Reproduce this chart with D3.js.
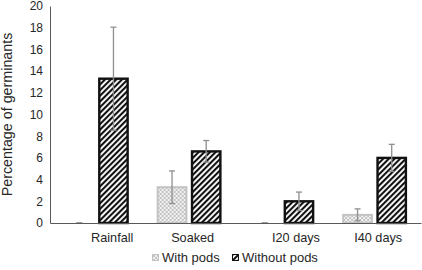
<!DOCTYPE html>
<html lang="en">
<head>
    <meta charset="UTF-8">
    <title>Percentage of germinants</title>
    <script src="https://cdnjs.cloudflare.com/ajax/libs/d3/7.8.5/d3.min.js"></script>
    <style>
        body {
            margin: 0;
            background: #fff;
            font-family: "Liberation Sans", Arial, sans-serif;
        }
        text {
            fill: #262626;
            white-space: pre;
        }
    </style>
</head>
<body>
    <div id="wrapper"></div>
    <script>
        // data
        const categories = ['Rainfall', 'Soaked', 'I20 days', 'I40 days']
        // leading spaces as in the original sheet labels
        const tickLabels = ['         Rainfall', '  Soaked', '        I20 days', '  I40 days']
        const seriesNames = ['With pods', 'Without pods']
        const withPods = [0, 3.3, 0, 0.75]
        const withPodsErr = [0, 1.5, 0, 0.55]
        const withoutPods = [13.3, 6.6, 2.0, 6.0]
        const withoutPodsErr = [4.75, 1.0, 0.85, 1.25]
        const yTicks = [0, 2, 4, 6, 8, 10, 12, 14, 16, 18, 20]

        const dimensions = {
            width: 422,
            height: 270,
            margin: { top: 6, right: 1, bottom: 47, left: 50 }
        }
        dimensions.boundedWidth = dimensions.width - dimensions.margin.left - dimensions.margin.right
        dimensions.boundedHeight = dimensions.height - dimensions.margin.top - dimensions.margin.bottom

        const svg = d3.select('#wrapper')
            .append('svg')
            .attr('width', dimensions.width)
            .attr('height', dimensions.height)

        // patterns
        const defs = svg.append('defs')
        const stripe = defs.append('pattern')
            .attr('id', 'stripe')
            .attr('patternUnits', 'userSpaceOnUse')
            .attr('width', 4)
            .attr('height', 4)
            .attr('patternTransform', 'rotate(45)')
        stripe.append('rect').attr('width', 4).attr('height', 4).attr('fill', '#fff')
        stripe.append('rect').attr('width', 2.1).attr('height', 4).attr('fill', '#111')

        const cross = defs.append('pattern')
            .attr('id', 'cross')
            .attr('patternUnits', 'userSpaceOnUse')
            .attr('width', 4)
            .attr('height', 4)
        cross.append('rect').attr('width', 4).attr('height', 4).attr('fill', '#f2f2f2')
        cross.append('path')
            .attr('d', 'M0,0L4,4M4,0L0,4')
            .attr('stroke', '#bdbdbd')
            .attr('stroke-width', 0.9)

        const bounds = svg.append('g')
            .attr('transform', `translate(${dimensions.margin.left},${dimensions.margin.top})`)

        // scales
        const x0 = d3.scaleBand()
            .domain(categories)
            .range([0, dimensions.boundedWidth])
            .paddingInner(0.3)
            .paddingOuter(0.15)

        const x1 = d3.scaleBand()
            .domain(seriesNames)
            .range([0, x0.bandwidth()])
            .paddingInner(0.1)

        const yScale = d3.scaleLinear()
            .domain([0, 20])
            .range([dimensions.boundedHeight, 0])

        const rows = categories.map((c, i) => ({
            category: c,
            values: [
                { series: seriesNames[0], value: withPods[i], err: withPodsErr[i] },
                { series: seriesNames[1], value: withoutPods[i], err: withoutPodsErr[i] }
            ]
        }))

        const fills = { 'With pods': 'url(#cross)', 'Without pods': 'url(#stripe)' }
        const strokes = { 'With pods': '#c3c3c3', 'Without pods': '#111' }
        const strokeWidths = { 'With pods': 2, 'Without pods': 2.4 }

        // y axis
        const yAxis = bounds.append('g')
            .call(d3.axisLeft(yScale).tickValues(yTicks).tickSize(0).tickPadding(7))
        yAxis.select('.domain').attr('stroke', '#595959')
        yAxis.selectAll('text')
            .style('font-size', '12px')
            .style('font-family', '"Liberation Sans", Arial, sans-serif')
            .attr('fill', '#262626')

        // bars
        const groups = bounds.append('g')
            .selectAll('g')
            .data(rows)
            .join('g')
            .attr('transform', d => `translate(${x0(d.category)},0)`)

        groups.selectAll('rect')
            .data(d => d.values)
            .join('rect')
            .filter(d => d.value > 0)
            .attr('x', d => x1(d.series) + strokeWidths[d.series] / 2)
            .attr('y', d => yScale(d.value))
            .attr('width', d => x1.bandwidth() - strokeWidths[d.series])
            .attr('height', d => yScale(0) - yScale(d.value))
            .attr('fill', d => fills[d.series])
            .attr('stroke', d => strokes[d.series])
            .attr('stroke-width', d => strokeWidths[d.series])

        // error bars
        const capW = 3
        const errs = groups.selectAll('g.err')
            .data(d => d.values)
            .join('g')
            .attr('class', 'err')
            .attr('stroke', '#8f8f8f')
            .attr('stroke-width', 1.3)
        const cx = d => x1(d.series) + x1.bandwidth() / 2
        errs.append('line')
            .attr('x1', cx).attr('x2', cx)
            .attr('y1', d => yScale(d.value + d.err))
            .attr('y2', d => yScale(Math.max(0, d.value - d.err)))
        errs.append('line')
            .attr('x1', d => cx(d) - capW).attr('x2', d => cx(d) + capW)
            .attr('y1', d => yScale(d.value + d.err))
            .attr('y2', d => yScale(d.value + d.err))
        errs.append('line')
            .attr('x1', d => cx(d) - capW).attr('x2', d => cx(d) + capW)
            .attr('y1', d => yScale(Math.max(0, d.value - d.err)))
            .attr('y2', d => yScale(Math.max(0, d.value - d.err)))

        // x axis
        const xAxis = bounds.append('g')
            .attr('transform', `translate(0,${dimensions.boundedHeight})`)
            .call(d3.axisBottom(x0).tickSize(0).tickPadding(10)
                .tickFormat((d, i) => tickLabels[i]))
        xAxis.select('.domain').attr('stroke', '#595959')
        xAxis.selectAll('text')
            .style('font-size', '12.7px')
            .style('font-family', '"Liberation Sans", Arial, sans-serif')
            .attr('fill', '#262626')

        // y axis title
        svg.append('text')
            .attr('transform', `translate(12,${dimensions.margin.top + dimensions.boundedHeight / 2}) rotate(-90)`)
            .attr('text-anchor', 'middle')
            .style('font-size', '14.3px')
            .text('Percentage of germinants')

        // legend
        const legend = svg.append('g')
            .attr('transform', 'translate(152,254)')
        const legendX = [0, 80]
        const items = legend.selectAll('g')
            .data(seriesNames)
            .join('g')
            .attr('transform', (d, i) => `translate(${legendX[i]},0)`)
        items.append('rect')
            .attr('x', 0.5).attr('y', 0.5)
            .attr('width', 6).attr('height', 6)
            .attr('fill', d => fills[d])
            .attr('stroke', d => strokes[d])
            .attr('stroke-width', 1)
        items.append('text')
            .attr('x', 10)
            .attr('y', 8.3)
            .style('font-size', '13px')
            .text(d => d)
    </script>
</body>
</html>
